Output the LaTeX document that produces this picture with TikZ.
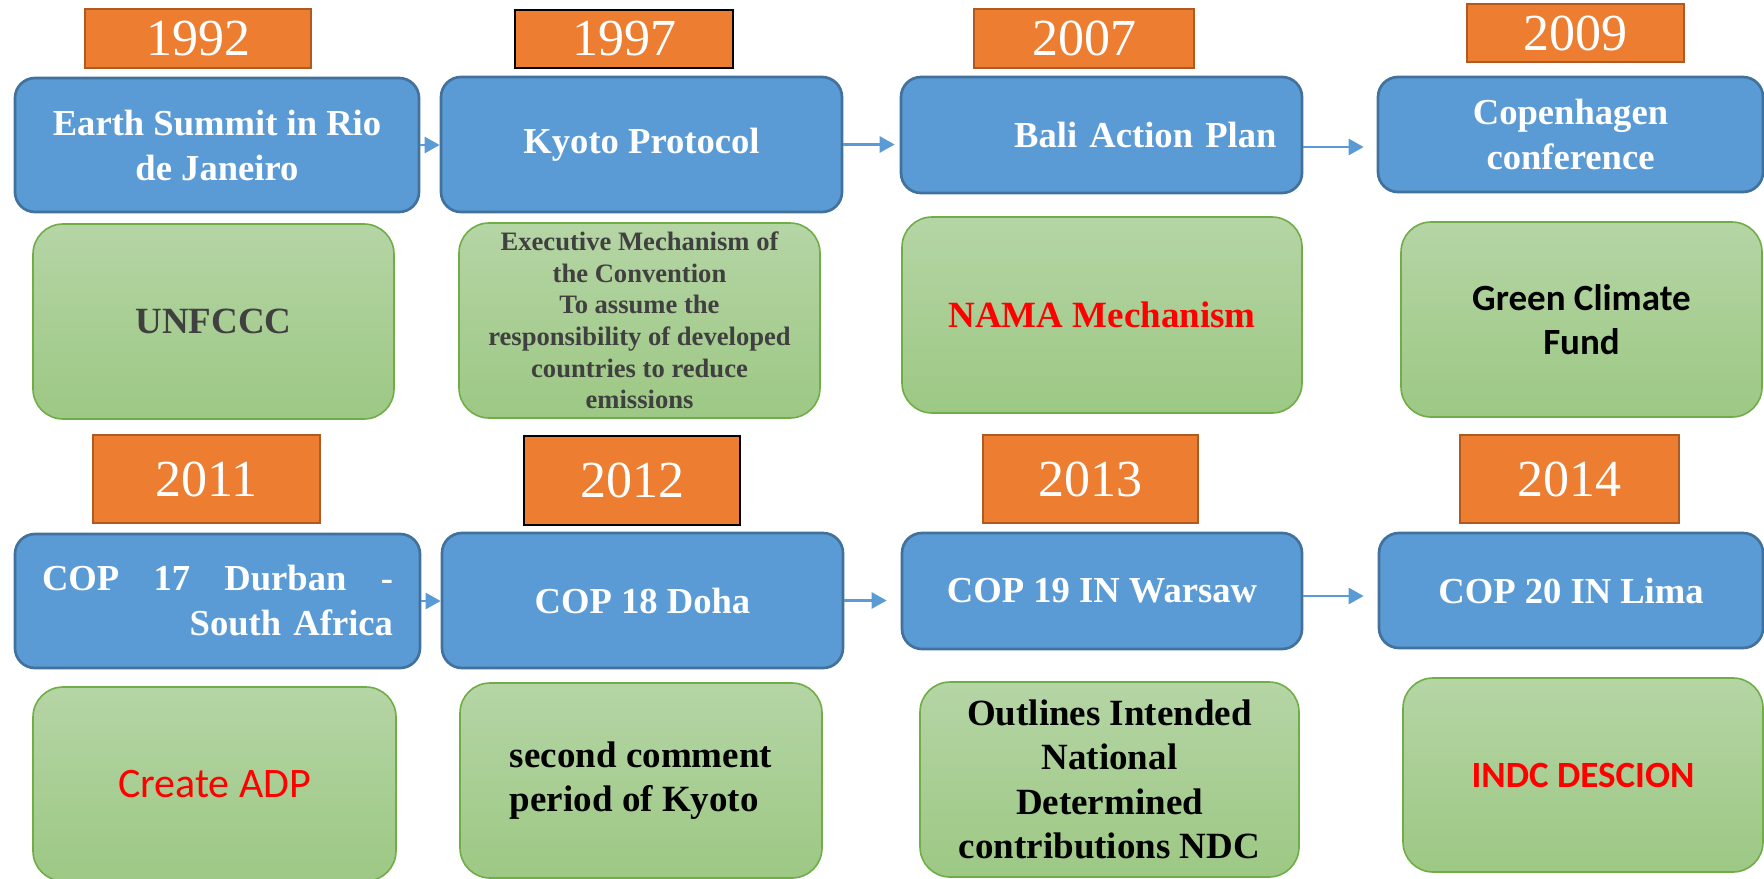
\documentclass[tikz,border=0pt]{standalone}
\usepackage{fontspec}
\setmainfont{Liberation Serif}
\newfontfamily\calibri{Carlito}
\usetikzlibrary{arrows.meta}

\definecolor{orangefill}{HTML}{ED7D31}
\definecolor{orangeline}{HTML}{AE5A21}
\definecolor{bluefill}{HTML}{5B9BD5}
\definecolor{blueline}{HTML}{41719C}
\definecolor{greentop}{HTML}{B5D5A5}
\definecolor{greenbot}{HTML}{9DC884}
\definecolor{greenline}{HTML}{70AD47}
\definecolor{darktext}{HTML}{404040}
\definecolor{alertred}{HTML}{FF0000}

\tikzset{
  yearbox/.style={fill=orangefill,line width=1.1pt,text=white,inner sep=0pt,font=\fontsize{26}{30}\selectfont},
  eventbox/.style={draw=blueline,fill=bluefill,line width=1.35pt,rounded corners=10pt,inner sep=0pt,text=white,align=center,font=\fontsize{18.3}{22.5}\selectfont\bfseries},
  notebox/.style={draw=greenline,top color=greentop,bottom color=greenbot,line width=0.8pt,rounded corners=15pt,inner sep=0pt,align=center,font=\fontsize{18.5}{22.2}\selectfont\bfseries},
  flow/.style={draw=bluefill,line width=1.35pt,-{Triangle[length=7.5pt,width=8pt]}}
}

\begin{document}
\begin{tikzpicture}[x=0.5pt,y=-0.5pt]
\useasboundingbox (0,0) rectangle (1764,878);

\foreach \yr/\cx/\cy/\w/\h/\ln in {
  1992/198/38.5/113/29.5/orangeline,
  1997/624/39/109/29/black,
  2007/1084/38.5/110/29.5/orangeline,
  2009/1575.5/33/108.5/29/orangeline,
  2011/206.5/479/113.5/44/orangeline,
  2012/632/480.5/108/44.5/black,
  2013/1090.5/479/107.5/44/orangeline,
  2014/1569.5/479/109.5/44/orangeline}{
  \node[yearbox,draw=\ln,minimum width=\w pt,minimum height=\h pt] (y\yr) at (\cx,\cy) {\yr};
}

\node[eventbox,minimum width=202pt,minimum height=67pt] (earth) at (217,145) {Earth Summit in Rio\\de Janeiro};
\node[eventbox,minimum width=200.5pt,minimum height=67.5pt] (kyoto) at (641.5,144.5) {Kyoto Protocol};
\node[eventbox,minimum width=200.5pt,minimum height=58pt,text width=175pt,align=right] (bali) at (1101.5,135) {Bali Action Plan};
\node[eventbox,minimum width=192.5pt,minimum height=57.5pt] (copen) at (1570.5,134.5) {Copenhagen\\conference};

\node[eventbox,minimum width=202.5pt,minimum height=67pt,text width=175.5pt,align=left] (durban) at (217.5,601) {COP\hfill 17\hfill Durban\hfill -\\\hspace*{\fill}South Africa};
\node[eventbox,minimum width=200.5pt,minimum height=67.5pt] (doha) at (642.5,600.5) {COP 18 Doha};
\node[eventbox,minimum width=200pt,minimum height=58pt] (warsaw) at (1102,591) {COP 19 IN Warsaw};
\node[eventbox,minimum width=192pt,minimum height=57.5pt] (lima) at (1571,590.5) {COP 20 IN Lima};

\node[notebox,minimum width=180.5pt,minimum height=97.5pt,text=darktext] (unfccc) at (213.5,321.5) {UNFCCC};
\node[notebox,minimum width=180.5pt,minimum height=97.5pt,text=darktext,font=\fontsize{13.3}{15.85}\selectfont\bfseries] (mech) at (639.5,320.5) {Executive Mechanism of\\the Convention\\To assume the\\responsibility of developed\\countries to reduce\\emissions};
\node[notebox,minimum width=200pt,minimum height=98pt,text=alertred] (nama) at (1102,315) {NAMA Mechanism};
\node[notebox,minimum width=180.5pt,minimum height=97.5pt,font=\calibri\fontsize{18.5}{22}\selectfont\bfseries] (fund) at (1581.5,319.5) {Green Climate\\Fund};

\node[notebox,minimum width=181.5pt,minimum height=97pt,text=alertred,font=\calibri\fontsize{21}{25}\selectfont] (adp) at (214.5,784) {Create ADP};
\node[notebox,minimum width=181pt,minimum height=97.5pt,align=left] (period) at (641,780.5) {second comment\\period of Kyoto};
\node[notebox,minimum width=189.5pt,minimum height=97.5pt] (ndc) at (1109.5,779.5) {Outlines Intended\\National\\Determined\\contributions NDC};
\node[notebox,minimum width=180pt,minimum height=97pt,text=alertred,font=\calibri\fontsize{18.5}{22}\selectfont\bfseries] (indc) at (1583,775) {INDC DESCION};

\draw[flow] (earth.east) -- (earth.east -| kyoto.west);
\draw[flow,shorten >=2.5pt] (kyoto.east) -- (kyoto.east -| bali.west);
\draw[flow,shorten >=6.5pt] ([yshift=-6pt]bali.east) -- ([yshift=-6pt]bali.east -| copen.west);
\draw[flow] (durban.east) -- (durban.east -| doha.west);
\draw[flow,shorten >=7pt] (doha.east) -- (doha.east -| warsaw.west);
\draw[flow,shorten >=7pt] ([yshift=-2.5pt]warsaw.east) -- ([yshift=-2.5pt]warsaw.east -| lima.west);
\end{tikzpicture}
\end{document}
